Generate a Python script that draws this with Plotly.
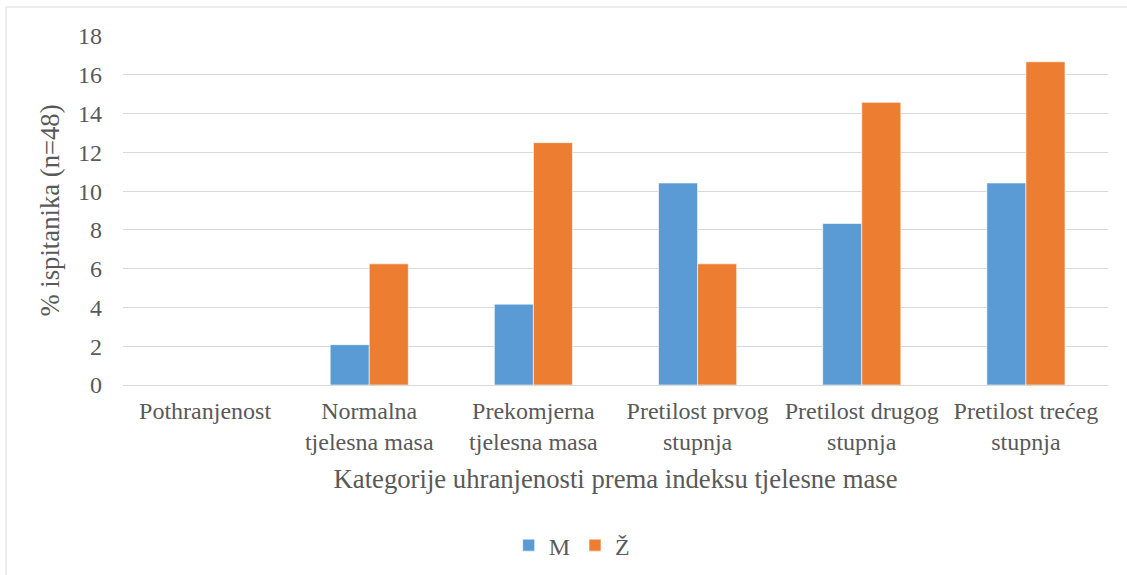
import plotly.graph_objects as go

categories = ["Pothranjenost", "Normalna<br>tjelesna masa", "Prekomjerna<br>tjelesna masa",
              "Pretilost prvog<br>stupnja", "Pretilost drugog<br>stupnja", "Pretilost trećeg<br>stupnja"]
m_values = [0, 2.08, 4.17, 10.42, 8.33, 10.42]
z_values = [0, 6.25, 12.5, 6.25, 14.58, 16.67]
y_ticks = [0, 2, 4, 6, 8, 10, 12, 14, 16, 18]

FONT = "Liberation Serif"
TXT = "#595959"

fig = go.Figure()
fig.add_trace(go.Bar(name="M", x=categories, y=m_values, marker=dict(color="#5B9BD5", line=dict(color="rgba(255,255,255,0.6)", width=1))))
fig.add_trace(go.Bar(name="Ž", x=categories, y=z_values, marker=dict(color="#ED7D31", line=dict(color="rgba(255,255,255,0.6)", width=1))))

L, R, T, B = 123, 19, 36, 190
W, H = 1127, 575
pw, ph = W - L - R, H - T - B

fig.update_layout(
    width=W, height=H,
    margin=dict(l=L, r=R, t=T, b=B, autoexpand=False),
    barmode="group", bargap=0.524, bargroupgap=0,
    plot_bgcolor="white", paper_bgcolor="white",
    font=dict(family=FONT, color=TXT, size=24),
    showlegend=True,
    legend=dict(orientation="h", x=0.456, xanchor="center", y=-0.46, yanchor="middle",
                font=dict(family=FONT, size=24, color=TXT), itemwidth=30, traceorder="normal"),
    xaxis=dict(tickfont=dict(family=FONT, size=24, color=TXT), showline=False, ticks="",
               ticklabelstandoff=9, automargin=False,
               title=dict(text="Kategorije uhranjenosti prema indeksu tjelesne mase",
                          font=dict(family=FONT, size=26.7, color=TXT), standoff=15)),
    yaxis=dict(range=[0, 18], tickvals=y_ticks, tickfont=dict(family=FONT, size=24, color=TXT),
               showgrid=True, gridcolor="#D9D9D9", gridwidth=1, zeroline=True, zerolinecolor="#D9D9D9",
               zerolinewidth=1, ticks="", ticklen=0, ticklabelstandoff=20, automargin=False,
               title=dict(text="% ispitanika (n=48)", font=dict(family=FONT, size=26.7, color=TXT), standoff=10)),
    shapes=[dict(type="rect", xref="paper", yref="paper",
                 x0=(6 - L) / pw, x1=(W + 5 - L) / pw,
                 y0=-(B + 5) / ph, y1=(T + ph - 7) / ph,
                 line=dict(color="#D9D9D9", width=1), fillcolor="rgba(0,0,0,0)", layer="below")],
)
fig.write_html("out.html", config={"displayModeBar": False},
               post_script="document.body.style.margin='0';document.body.style.padding='0';")
